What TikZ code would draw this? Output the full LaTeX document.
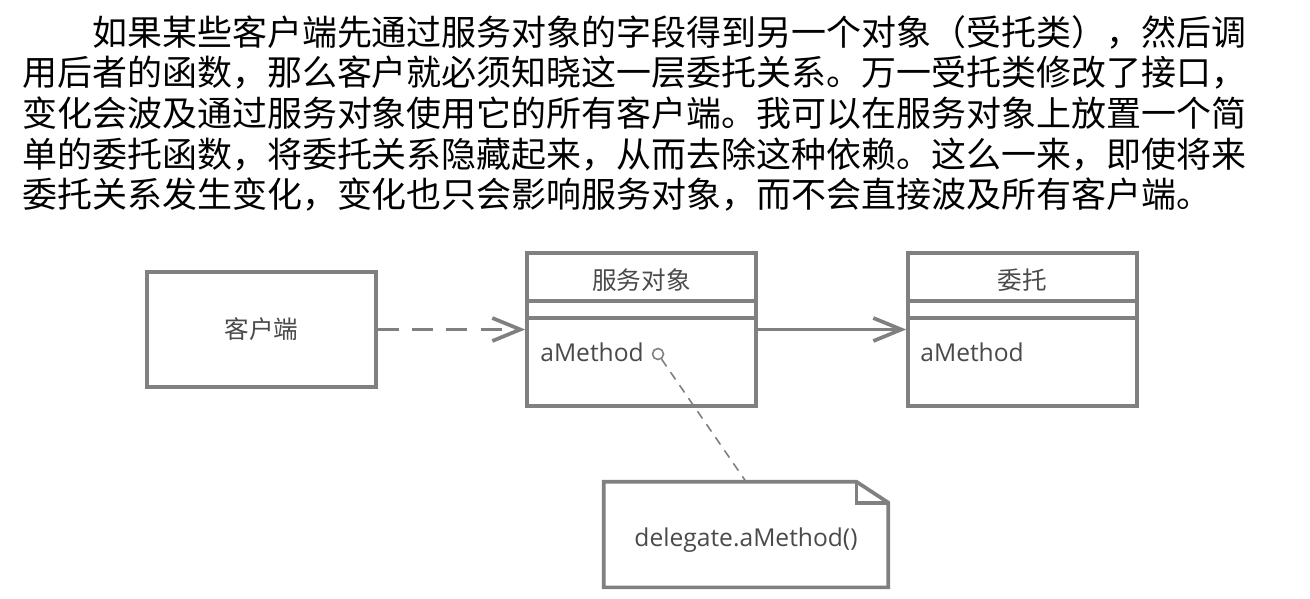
\documentclass[tikz,border=0pt]{standalone}
\usepackage{fontspec}
\setmainfont{Open Sans}
\newfontfamily\cjk{Noto Sans CJK SC}
\usetikzlibrary{arrows.meta}
\definecolor{umlgray}{HTML}{808080}
\definecolor{umltext}{HTML}{4a4a4a}

\begin{document}
\begin{tikzpicture}[x=0.02cm, y=-0.02cm,
    box/.style={draw=umlgray, line width=2.1pt, minimum width=4.58cm, inner sep=0pt},
    lbl/.style={text=umltext, font=\fontsize{14pt}{16pt}\selectfont, text height=14pt, text depth=3.5pt},
    sep/.style={draw=umlgray, line width=2.1pt},
    assoc/.style={draw=umlgray, line width=2.1pt, -{Straight Barb[length=0.56cm, width=0.46cm]}},
]
    \fill[white] (0,0) rectangle (1310,598);
    \useasboundingbox (0,0) rectangle (1310,598);

    % Paragraph above the diagram
    \node[anchor=north west, inner sep=0pt, align=left,
          font=\cjk\fontsize{19.9pt}{23.1pt}\selectfont] (para) at (22,15) {
        \hspace*{2em}如果某些客户端先通过服务对象的字段得到另一个对象（受托类），然后调\\
        用后者的函数，那么客户就必须知晓这一层委托关系。万一受托类修改了接口，\\
        变化会波及通过服务对象使用它的所有客户端。我可以在服务对象上放置一个简\\
        单的委托函数，将委托关系隐藏起来，从而去除这种依赖。这么一来，即使将来\\
        委托关系发生变化，变化也只会影响服务对象，而不会直接波及所有客户端。
    };

    % Client
    \node[box, lbl, minimum height=2.3cm] (client) at (261.5,329.5) {\cjk 客户端};

    % Server class
    \node[box, minimum height=3.06cm] (svc) at (641.5,329.5) {};
    \node[lbl] (svctitle) at ([yshift=-0.58cm]svc.north) {\cjk 服务对象};
    \draw[sep] ([yshift=-1cm]svc.north west) -- ([yshift=-1cm]svc.north east);
    \draw[sep] ([yshift=-1.34cm]svc.north west) -- ([yshift=-1.34cm]svc.north east);
    \node[lbl, anchor=west, inner sep=0pt] (svcop) at (540,352) {aMethod};
    \node[circle, draw=umlgray, line width=0.9pt, inner sep=0pt, minimum size=0.22cm] (hook) at (658,354) {};

    % Delegate class
    \node[box, minimum height=3.06cm] (dlg) at (1022.5,329.5) {};
    \node[lbl] (dlgtitle) at ([yshift=-0.58cm]dlg.north) {\cjk 委托};
    \draw[sep] ([yshift=-1cm]dlg.north west) -- ([yshift=-1cm]dlg.north east);
    \draw[sep] ([yshift=-1.34cm]dlg.north west) -- ([yshift=-1.34cm]dlg.north east);
    \node[lbl, anchor=west, inner sep=0pt] (dlgop) at (920,352) {aMethod};

    % Note with folded corner
    \node[lbl, text depth=0pt, minimum width=5.68cm, minimum height=2.1cm, inner sep=0pt] (note) at (746,534.5) {delegate.aMethod()};
    \draw[sep] (note.north west) -- ([xshift=-0.64cm]note.north east) -- ([yshift=-0.42cm]note.north east)
        -- (note.south east) -- (note.south west) -- cycle;
    \draw[sep] ([xshift=-0.64cm]note.north east) -- ([xshift=-0.64cm,yshift=-0.42cm]note.north east)
        -- ([yshift=-0.42cm]note.north east);

    % Connectors
    \draw[assoc, dash pattern=on 12pt off 7.5pt] (client) -- (svc);
    \draw[assoc] (svc) -- (dlg);
    \draw[umlgray, line width=0.9pt, dash pattern=on 5pt off 4pt] (hook) -- (note.north);
\end{tikzpicture}
\end{document}
